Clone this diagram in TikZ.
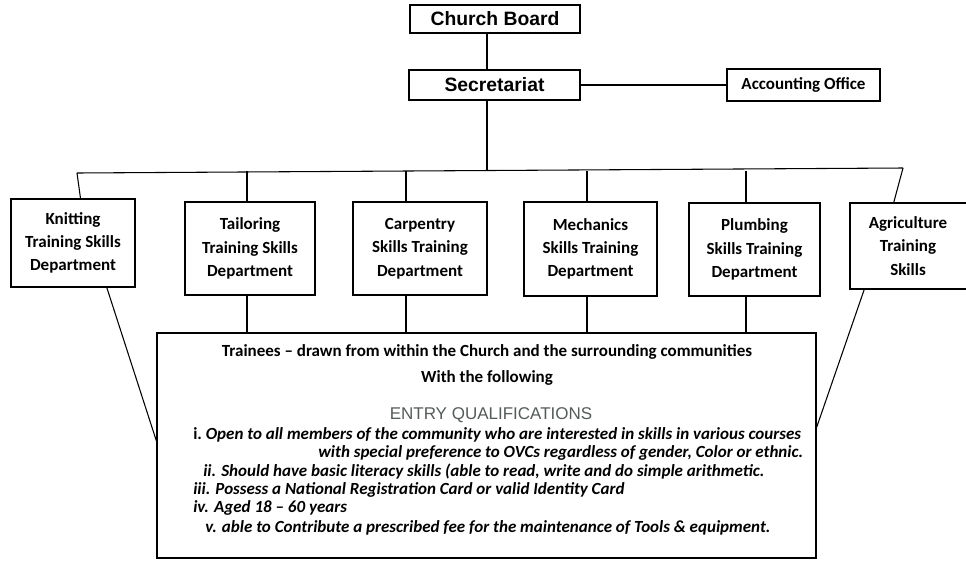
\documentclass[tikz,border=0pt]{standalone}
\usepackage{fontspec}
\setmainfont{Carlito}
\newfontfamily\arialf{Liberation Sans}
\usetikzlibrary{fit,calc}
\definecolor{eqgray}{RGB}{85,92,88}
\begin{document}
\begin{tikzpicture}[x=0.75pt,y=-0.75pt,
  frame/.style={draw, line width=0.9pt, inner sep=0pt},
  boxtext/.style={inner sep=0pt, align=center, font=\bfseries\fontsize{12.75}{17.5}\selectfont},
  toptext/.style={inner sep=0pt, font=\arialf\bfseries\fontsize{14.5}{17}\selectfont},
  link/.style={line width=0.8pt},
  txt/.style={inner sep=0pt, font=\bfseries\fontsize{12.75}{15}\selectfont},
  item/.style={inner sep=0pt, anchor=west, font=\bfseries\itshape\fontsize{12.75}{15}\selectfont}]
\useasboundingbox (0,0) rectangle (966,561);
\fill[white] (0,0) rectangle (966,561);
\clip (0,0) rectangle (966,561);

% top
\node[frame, fit={(410,5)(580,33)}, label={[toptext]center:Church Board}] (board) {};
\node[frame, fit={(409,70)(580,100)}, label={[toptext]center:Secretariat}] (secr) {};
\node[frame, fit={(727,69)(880,101)}, label={[boxtext]center:Accounting Office}] (acct) {};

% departments
\node[frame, fit={(11,199)(135,287)}, label={[boxtext]center:Knitting\\Training Skills\\Department}] (knit) {};
\node[frame, fit={(185,202)(315,295)}, label={[boxtext]center:Tailoring\\Training Skills\\Department}] (tail) {};
\node[frame, fit={(353,202)(487,295)}, label={[boxtext]center:Carpentry\\Skills Training\\Department}] (carp) {};
\node[frame, fit={(524,202)(657,296)}, label={[boxtext]center:Mechanics\\Skills Training\\Department}] (mech) {};
\node[frame, fit={(689,203)(820,296)}, label={[boxtext]center:Plumbing\\Skills Training\\Department}] (plum) {};
\node[frame, fit={(850,203)(972,289)}] (agri) {};
\node[boxtext] (agrit) at (908,246) {Agriculture\\Training\\Skills};

% trainees box
\node[frame, fit={(157,333)(816,558)}] (train) {};

% helper coordinates
\coordinate (spine) at (487,171);
\coordinate (barL) at (77,173);
\coordinate (barR) at (903,168);
\coordinate (xt) at (247,0);
\coordinate (xc) at (406,0);
\coordinate (xm) at (587,0);
\coordinate (xp) at (746,0);

% connectors
\draw[link] (spine |- board.south) -- (spine |- secr.north);
\draw[link] (spine |- secr.south) -- (spine);
\draw[link] (secr.east) -- (acct.west);
\draw[link] (barL) -- (barR);
\draw[link] (barL) -- ($(knit.north west)!0.56!(knit.north east)$);
\draw[link] (barR) -- ($(agri.north west)!0.36!(agri.north east)$);
\draw[link] (xt |- spine) -- (xt |- tail.north);
\draw[link] (xc |- spine) -- (xc |- carp.north);
\draw[link] (xm |- spine) -- (xm |- mech.north);
\draw[link] (xp |- spine) -- (xp |- plum.north);
\draw[link] (xt |- tail.south) -- (xt |- train.north);
\draw[link] (xc |- carp.south) -- (xc |- train.north);
\draw[link] (xm |- mech.south) -- (xm |- train.north);
\draw[link] (xp |- plum.south) -- (xp |- train.north);
\draw[link] ($(knit.south west)!0.77!(knit.south east)$) -- ($(train.north west)!0.48!(train.south west)$);
\draw[link] ($(agri.south west)!0.12!(agri.south east)$) -- ($(train.north east)!0.42!(train.south east)$);

% texts in trainees box
\node[txt] (l1) at (487,352) {Trainees – drawn from within the Church and the surrounding communities};
\node[txt] (l2) at (487,378) {With the following};
\node[inner sep=0pt, font=\arialf\fontsize{12.75}{15}\selectfont, text=eqgray] (eq) at (491,415) {ENTRY QUALIFICATIONS};
\node[item] (i1) at (193,435) {\upshape i.\itshape\ Open to all members of the community who are interested in skills in various courses};
\node[item] (i1b) at (318,453) {with special preference to OVCs regardless of gender, Color or ethnic.};
\node[item] (i2) at (203,472) {ii. Should have basic literacy skills (able to read, write and do simple arithmetic.};
\node[item] (i3) at (193,490) {iii. Possess a National Registration Card or valid Identity Card};
\node[item] (i4) at (193,508) {iv. Aged 18 – 60 years};
\node[item] (i5) at (205,528) {v. able to Contribute a prescribed fee for the maintenance of Tools \& equipment.};
\end{tikzpicture}
\end{document}
